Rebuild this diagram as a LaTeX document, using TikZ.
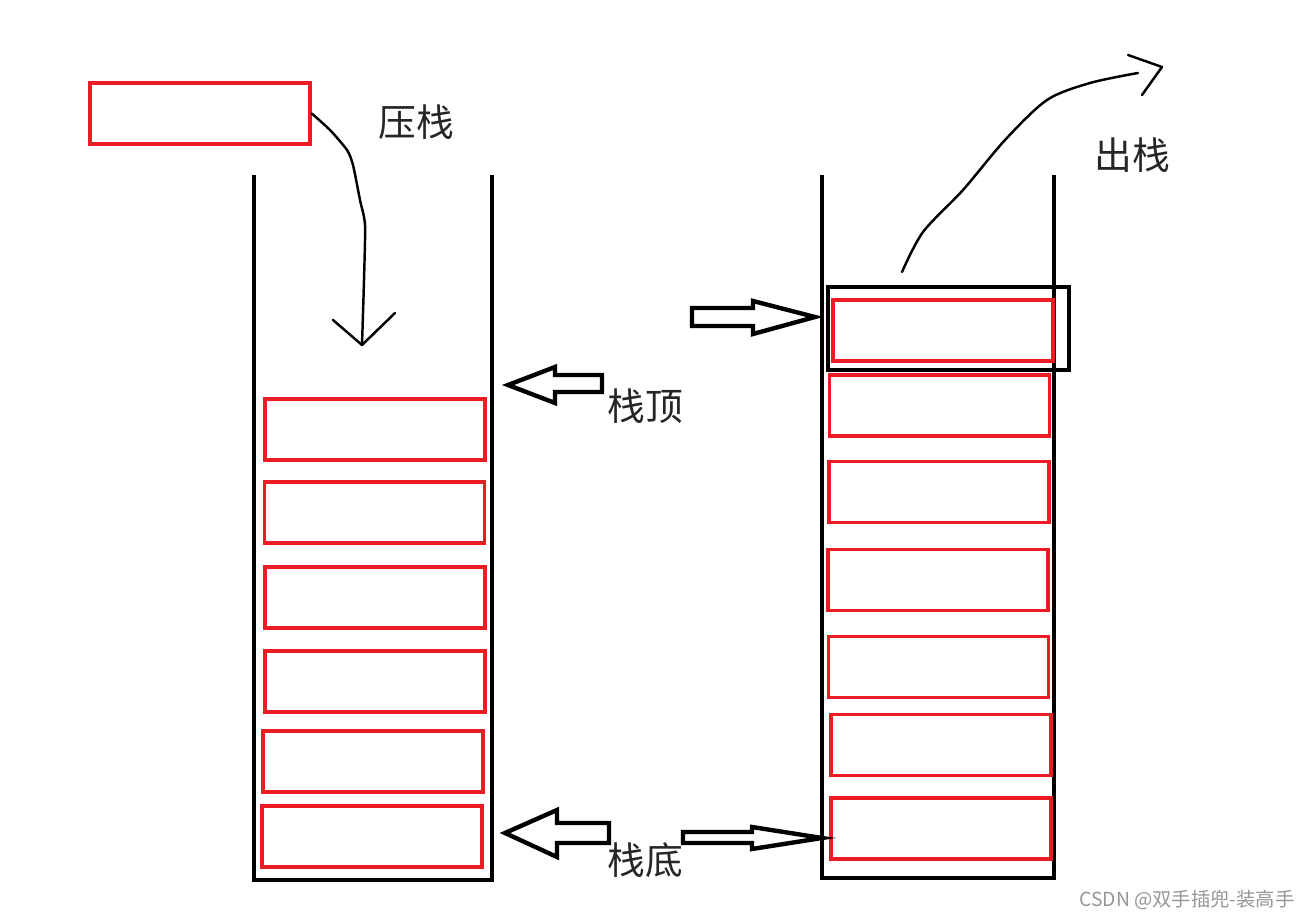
\documentclass[tikz,border=0pt]{standalone}
\usepackage{fontspec}
\setmainfont{Noto Sans CJK SC}
\usepackage{tikz}
\definecolor{paintred}{RGB}{237,28,36}
\definecolor{inkgray}{RGB}{38,38,38}
\definecolor{markgray}{RGB}{150,150,150}

\begin{document}
\begin{tikzpicture}[x=0.02cm, y=0.02cm]
\tikzstyle{every node}+=[inner sep=0pt]
\tikzstyle{elem}=[draw=paintred, line width=2pt, minimum width=4.4cm, minimum height=1.22cm]
\tikzstyle{wall}=[black, line width=2.2pt]
\tikzstyle{hand}=[black, line width=1.4pt, line cap=round, line join=round]
\tikzstyle{block}=[black, fill=white, line width=2.5pt, line join=miter]
\tikzstyle{label}=[text=inkgray, font=\fontsize{21.5}{24}\selectfont]
\useasboundingbox (0,0) rectangle (1313,-919);
% left stack
\draw [wall] (254,-175) -- (254,-880) -- (492,-880) -- (492,-175);
\node (l1) [elem] at (375,-429.5) {};
\node (l2) [elem] at (374.5,-512.5) {};
\node (l3) [elem] at (375,-597.5) {};
\node (l4) [elem] at (375,-681.5) {};
\node (l5) [elem] at (373,-761.5) {};
\node (l6) [elem] at (372,-836.5) {};
\node (new) [elem] at (200,-113.5) {};
% right stack
\draw [wall] (822,-175) -- (822,-878) -- (1054,-878) -- (1054,-175);
\node (r1) [elem] at (943,-330.5) {};
\node (r2) [elem] at (939.5,-405.5) {};
\node (r3) [elem] at (939,-492) {};
\node (r4) [elem] at (938,-580) {};
\node (r5) [elem] at (938.5,-667) {};
\node (r6) [elem] at (941,-745) {};
\node (r7) [elem] at (941,-828.5) {};
\draw [black, line width=2.5pt] (828,-287) rectangle (1069,-370);
% push
\coordinate (push) at (362,-345);
\draw [hand] plot [smooth, tension=0.4] coordinates {(new.east) (330,-130) (347,-150) (353,-165) (360,-200) (365,-225) (364,-280) (362,-345)};
\draw [hand] (333,-320) -- (push) -- (395,-313);
\node [label] (pushlab) at (416,-122) {压栈};
% pop
\coordinate (pop) at (1162,-67);
\draw [hand] plot [smooth, tension=0.5] coordinates {(902,-272) (923,-232) (963,-190) (1005,-140) (1047,-100) (1090,-83) (1138,-73)};
\draw [hand] (1128,-55) -- (pop) -- (1142,-95);
\node [label] (poplab) at (1132,-155) {出栈};
% top and bottom pointers
\draw [block] (508,-385) -- (555,-367) -- (555,-375) -- (602,-375) -- (602,-392) -- (555,-392) -- (555,-403) -- cycle;
\node [label] (toplab) at (645,-406) {栈顶};
\draw [block] (815,-317) -- (753,-301) -- (753,-308) -- (692,-308) -- (692,-326) -- (753,-326) -- (753,-334) -- cycle;
\draw [block] (505,-833) -- (557,-810) -- (557,-823) -- (609,-823) -- (609,-843) -- (557,-843) -- (557,-857) -- cycle;
\draw [block] (822,-838) -- (752,-827) -- (752,-832) -- (683,-832) -- (683,-843) -- (752,-843) -- (752,-849) -- cycle;
\node [label] (botlab) at (645,-860) {栈底};
\node [text=markgray, font=\fontsize{11}{13}\selectfont] (mark) at (1187,-900) {CSDN @双手插兜-装高手};
\end{tikzpicture}
\end{document}
